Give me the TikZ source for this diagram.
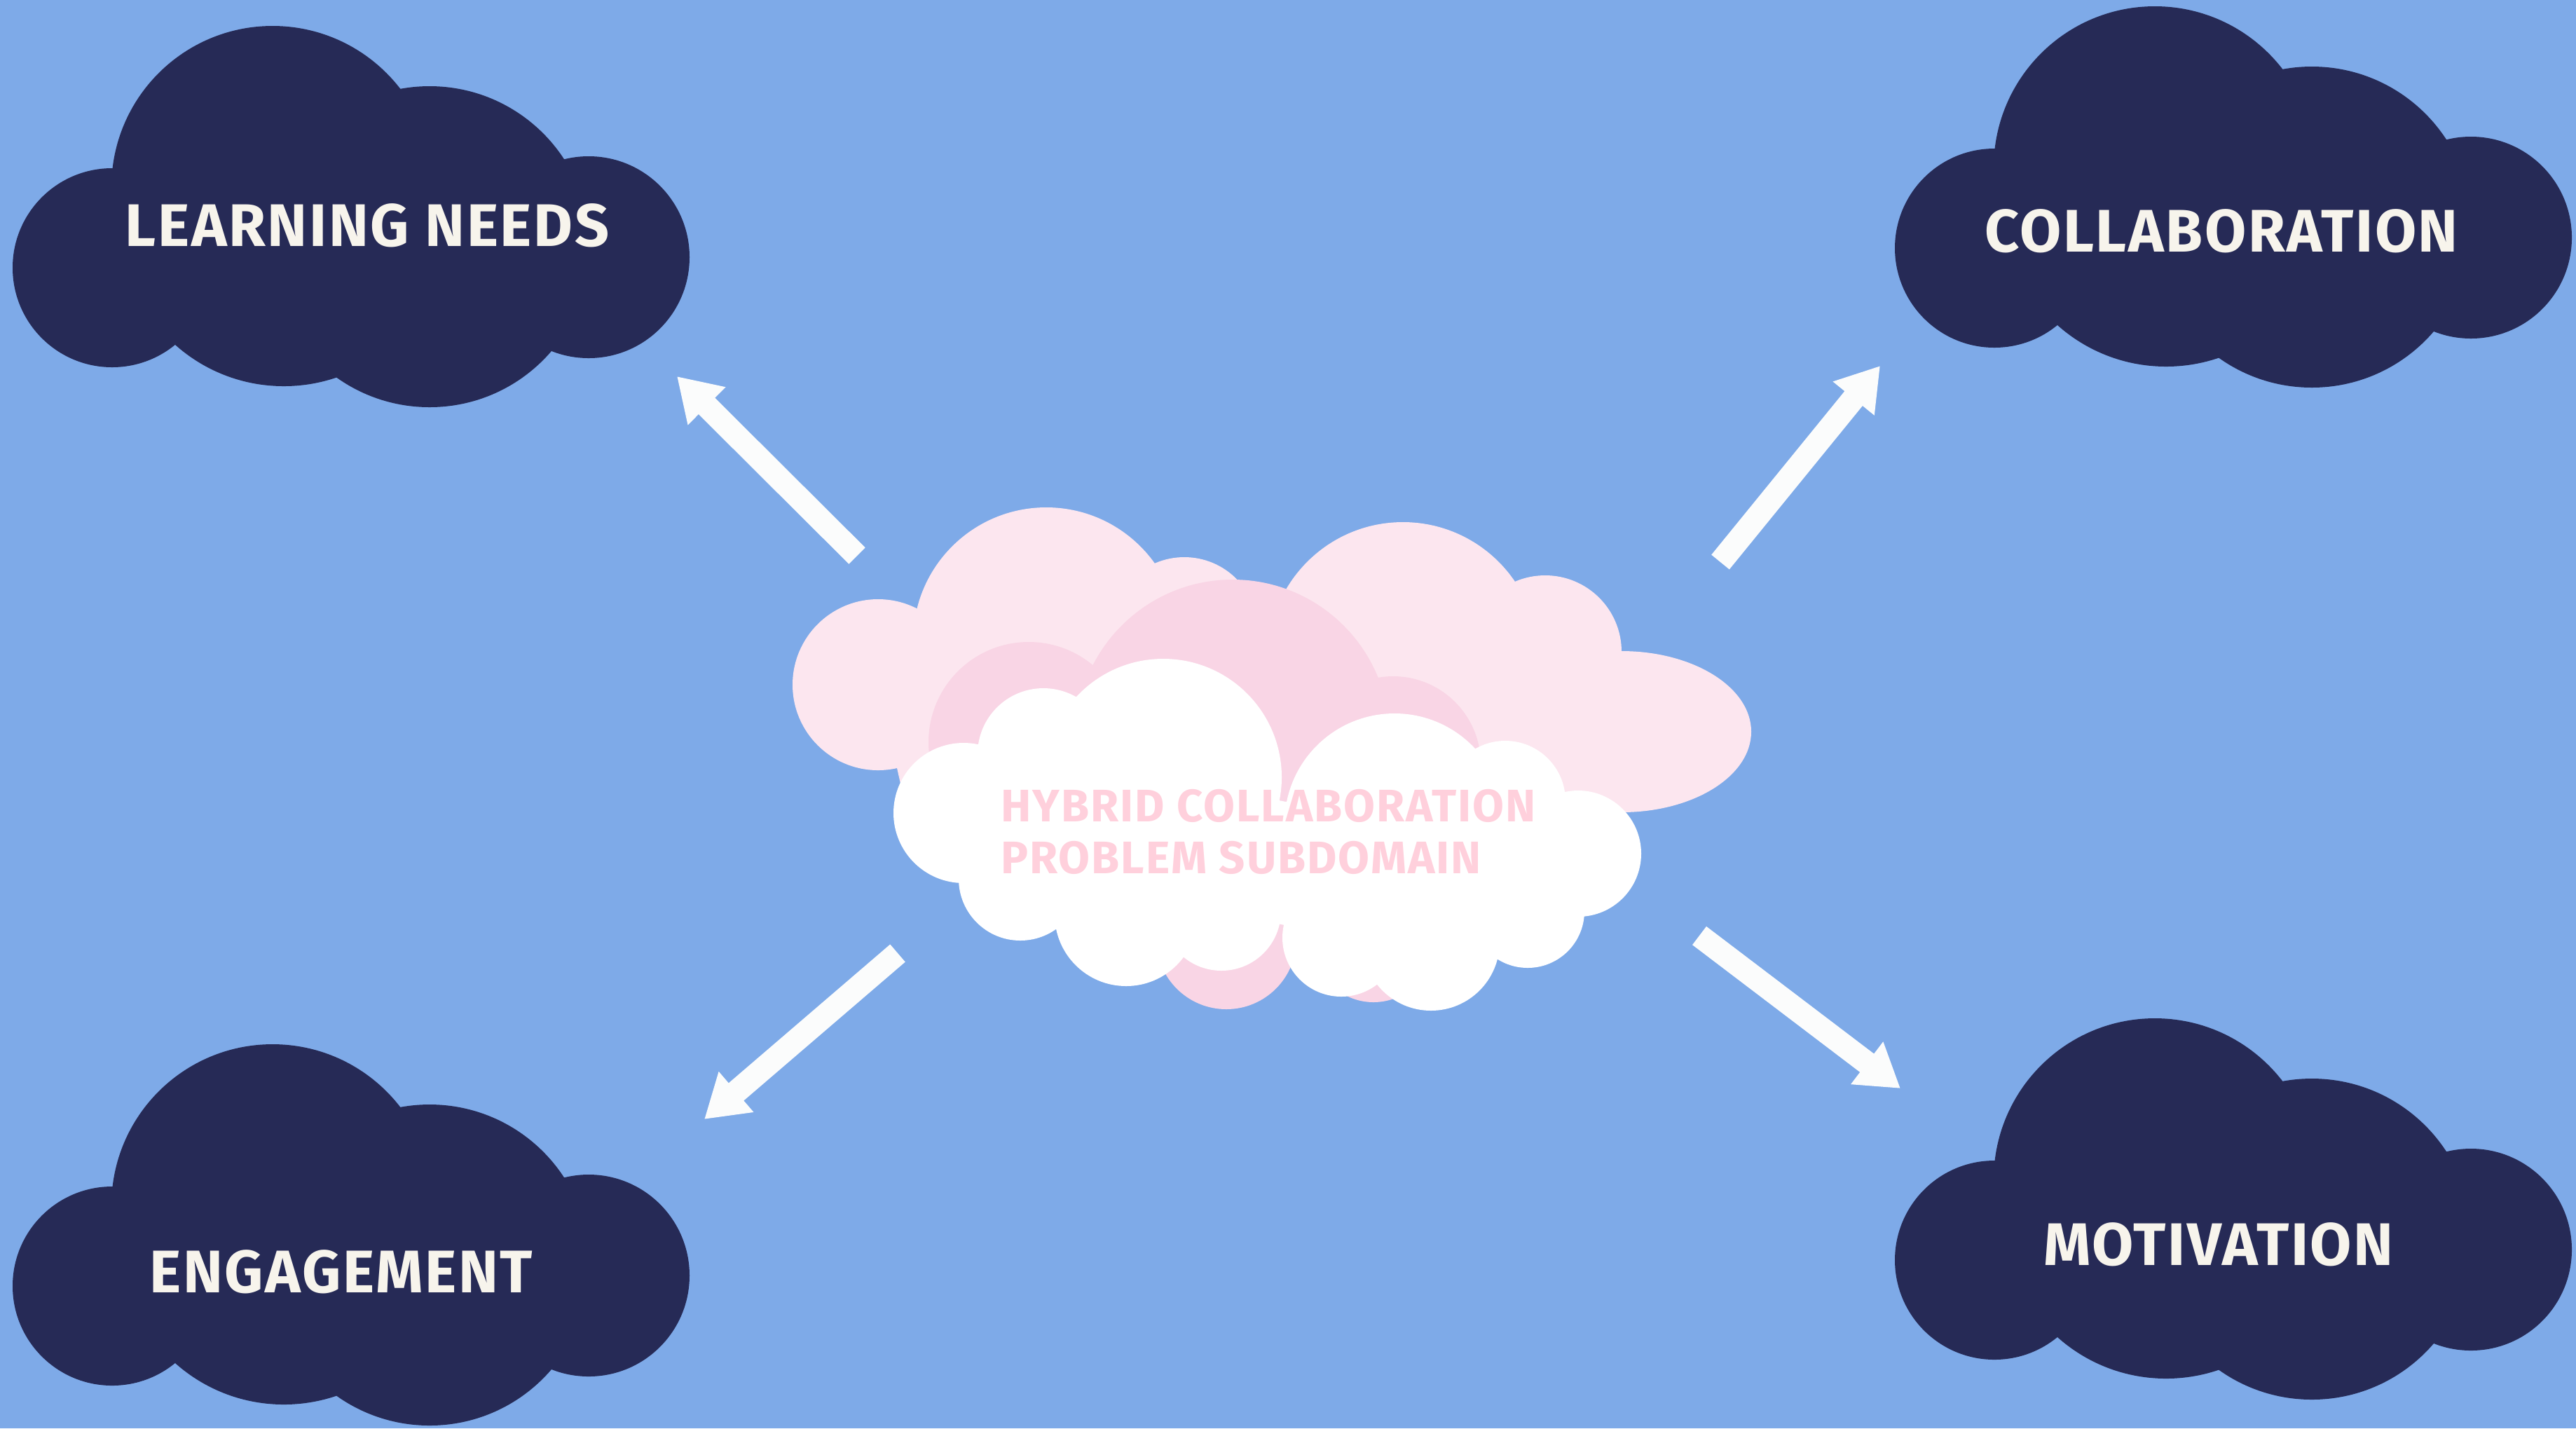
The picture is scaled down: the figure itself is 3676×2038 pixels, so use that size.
\documentclass[tikz,border=0pt]{standalone}
\usepackage{fontspec}
\setmainfont{Fira Sans}[LetterSpace=3]
\usetikzlibrary{
  arrows.meta
}
\definecolor{sky}{HTML}{7EAAE8}
\definecolor{navy}{HTML}{262A56}
\definecolor{cream}{HTML}{F7F4EC}
\definecolor{blush}{HTML}{FCE6EF}
\definecolor{rose}{HTML}{F9D5E5}
\definecolor{pinktext}{HTML}{FFD0DC}
\definecolor{snow}{HTML}{FBFCFC}
\tikzset{
  darkcloud/.pic={
    \fill[navy] (160,382) circle (142) (389,267) circle (230)
      (613,352) circle (229) (405,318) circle (233) (840,367) circle (144);
  },
  topic/.style={text=cream, inner sep=0pt, font=\bfseries\fontsize{24.4}{29}\selectfont},
  link/.style={draw=snow, line width=0.33cm, -{Triangle[width=0.72cm, length=0.6cm]}}
}

\begin{document}
\begin{tikzpicture}[x=0.01cm, y=-0.01cm]
    \fill[sky] (0,0) rectangle (3676,2038);
    \useasboundingbox (0,0) rectangle (3676,2038);

    % four dark clouds
    \pic at (0,0) {darkcloud};
    \pic at (2686,-28) {darkcloud};
    \pic at (0,1453) {darkcloud};
    \pic at (2686,1416) {darkcloud};

    % middle cloud, back to front
    \fill[blush] (1253,977) circle (122) (1493,914) circle (190) (1690,900) circle (105)
      (2002,938) circle (193) (2205,930) circle (109) (2314,1044) ellipse (185 and 115);
    \fill[blush] (1253,977) -- (1493,914) -- (1690,900) -- (2002,938) -- (2205,930)
      -- (2314,1044) -- (2300,1140) -- (1290,1140) -- cycle;
    \fill[rose] (1468,1059) circle (143) (1759,1051) circle (224) (1988,1090) circle (125)
      (1750,1340) circle (100) (1960,1345) circle (85);
    \fill[rose] (1468,1059) -- (1759,1051) -- (1988,1090) -- (1960,1345) -- (1750,1340) -- cycle;
    \fill[white] (1375,1160) circle (100) (1489,1076) circle (94) (1660,1109) circle (169)
      (1990,1175) circle (157) (2148,1143) circle (86) (2252,1218) circle (90)
      (2180,1300) circle (81) (2042,1344) circle (98) (1914,1338) circle (84)
      (1743,1300) circle (85) (1607,1305) circle (102) (1456,1254) circle (88);
    \fill[white] (1375,1160) -- (1489,1076) -- (1660,1109) -- (1990,1175) -- (2148,1143)
      -- (2252,1218) -- (2180,1300) -- (2042,1344) -- (1914,1338) -- (1743,1300)
      -- (1607,1305) -- (1456,1254) -- cycle;

    \node[anchor=north west, align=left, inner sep=0pt, text=pinktext,
      font=\bfseries\fontsize{18.5}{20.8}\selectfont] (hub) at (1428,1126)
      {HYBRID COLLABORATION\\PROBLEM SUBDOMAIN};

    \node[topic] (learn) at (524,322) {LEARNING NEEDS};
    \node[topic] (collab) at (3170,330) {COLLABORATION};
    \node[topic] (engage) at (487,1815) {ENGAGEMENT};
    \node[topic] (motiv) at (3166,1776) {MOTIVATION};

    % arrows out of the middle cloud
    \coordinate (nwfrom) at (1223,793);
    \coordinate (nwto) at (966,537);
    \coordinate (nefrom) at (2455,802);
    \coordinate (neto) at (2683,522);
    \coordinate (swfrom) at (1281,1360);
    \coordinate (swto) at (1005,1597);
    \coordinate (sefrom) at (2425,1335);
    \coordinate (seto) at (2712,1553);
    \draw[link] (nwfrom) -- (nwto);
    \draw[link] (nefrom) -- (neto);
    \draw[link] (swfrom) -- (swto);
    \draw[link] (sefrom) -- (seto);
\end{tikzpicture}
\end{document}
